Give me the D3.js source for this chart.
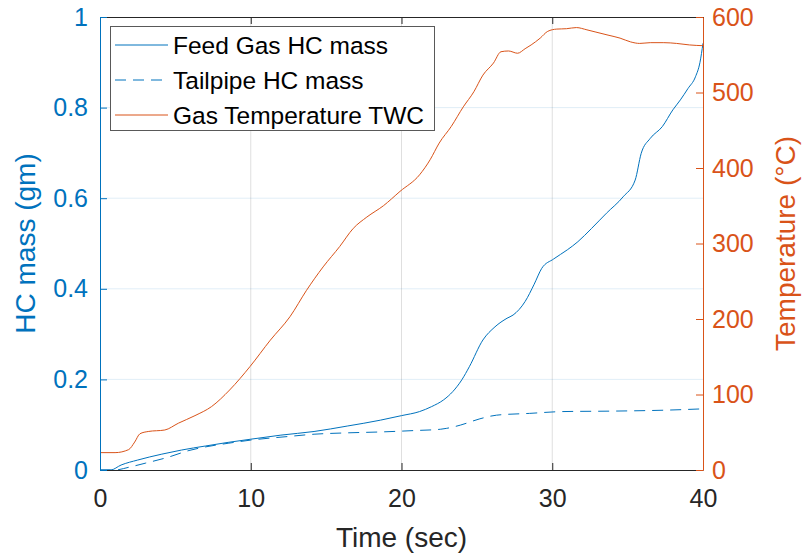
<!DOCTYPE html>
<html>
<head>
<meta charset="utf-8">
<script src="https://cdn.jsdelivr.net/npm/d3@7"></script>
<style>
  body { margin: 0; background: #fff; }
  svg { font-family: "Liberation Sans", Arial, sans-serif; }
</style>
</head>
<body>
<div id="container"></div>
<script>
/* CONSTANTS AND GLOBALS */
const width = 804,
  height = 556,
  margin = { top: 17, bottom: 86, left: 100, right: 101 }

const blue = '#0072BD',
  orange = '#D95319',
  dark = '#262626'

/* DATA */
// feed gas HC mass (gm)
const timeFeed = [0, 0.7, 1.4, 2.5, 4.1, 5.4, 7.0, 8.5, 10.0, 12.0, 14.2, 16.4, 18.6, 20.0, 21.2, 22.0, 22.8, 23.4, 24.0, 24.5, 25.4, 26.2, 27.0, 27.4, 28.2, 28.8, 29.3, 30.1, 31.0, 31.7, 32.6, 33.6, 34.7, 35.5, 35.9, 36.5, 37.3, 38.0, 38.5, 39.0, 39.5, 39.8, 40]
const feedHC = [0, 0, 0.011, 0.022, 0.035, 0.044, 0.053, 0.061, 0.068, 0.077, 0.085, 0.097, 0.110, 0.120, 0.129, 0.140, 0.155, 0.173, 0.199, 0.228, 0.287, 0.316, 0.335, 0.342, 0.372, 0.41, 0.445, 0.466, 0.486, 0.504, 0.533, 0.567, 0.603, 0.640, 0.699, 0.732, 0.758, 0.795, 0.817, 0.842, 0.868, 0.9, 0.942]

// tailpipe HC mass (gm)
const timeTail = [0, 1.0, 1.9, 3.0, 4.5, 5.9, 7.0, 8.5, 10.0, 12.5, 14.2, 16.4, 18.6, 20.8, 22.6, 23.0, 23.9, 25.2, 26.3, 28.5, 30.7, 34.0, 37.4, 40]
const tailHC = [0, 0, 0.006, 0.015, 0.028, 0.043, 0.051, 0.059, 0.066, 0.074, 0.079, 0.082, 0.084, 0.087, 0.090, 0.092, 0.099, 0.113, 0.121, 0.125, 0.129, 0.130, 0.132, 0.135]

// gas temperature TWC (°C)
const timeTemp = [0, 1.0, 1.9, 2.3, 2.65, 3.2, 4.3, 5.2, 6.3, 7.4, 8.6, 9.95, 11.3, 12.6, 13.7, 14.8, 15.9, 16.8, 17.7, 18.8, 19.9, 21.2, 21.9, 22.5, 23.3, 24.1, 24.8, 25.4, 26.1, 26.6, 27.1, 27.7, 28.2, 28.6, 29.2, 29.7, 30.3, 30.95, 31.6, 32.3, 32.9, 33.7, 34.5, 35.2, 35.8, 36.5, 37.4, 38.25, 39.1, 40]
const tempTWC = [23, 23, 27, 37, 48, 51, 53, 62, 72, 84, 106, 137, 172, 203, 238, 269, 296, 320, 335, 350, 369, 391, 411, 433, 455, 481, 501, 523, 539, 554, 555, 552, 558, 563, 572, 581, 584, 584.5, 586, 583, 580, 576, 572, 567, 565, 566, 566, 565, 563, 562]

/* TICKS AND LABELS */
const xTicks = [0, 10, 20, 30, 40]
const yTicks = [0, 0.2, 0.4, 0.6, 0.8, 1]
const tTicks = [0, 100, 200, 300, 400, 500, 600]

const legendItems = [
  { text: 'Feed Gas HC mass', color: blue, dash: null },
  { text: 'Tailpipe HC mass', color: blue, dash: '11,7' },
  { text: 'Gas Temperature TWC', color: orange, dash: null }
]

/* SCALES */
const xScale = d3.scaleLinear().domain([0, 40]).range([margin.left, width - margin.right])
const yScale = d3.scaleLinear().domain([0, 1]).range([height - margin.bottom, margin.top])
const tScale = d3.scaleLinear().domain([0, 600]).range([height - margin.bottom, margin.top])

const svg = d3.select('#container')
  .append('svg')
  .attr('width', width)
  .attr('height', height)

// + GRID
svg.append('g')
  .selectAll('line')
  .data(xTicks.slice(1, -1))
  .join('line')
  .attr('x1', d => xScale(d)).attr('x2', d => xScale(d))
  .attr('y1', margin.top).attr('y2', height - margin.bottom)
  .attr('stroke', dark).attr('stroke-opacity', 0.15)

svg.append('g')
  .selectAll('line')
  .data(yTicks.slice(1, -1))
  .join('line')
  .attr('x1', margin.left).attr('x2', width - margin.right)
  .attr('y1', d => yScale(d)).attr('y2', d => yScale(d))
  .attr('stroke', blue).attr('stroke-opacity', 0.12)

// + LINES
const zip = (xs, ys) => xs.map((x, i) => ({ x, y: ys[i] }))

const hcLine = d3.line()
  .x(d => xScale(d.x))
  .y(d => yScale(d.y))
  .curve(d3.curveMonotoneX)

const tempLine = d3.line()
  .x(d => xScale(d.x))
  .y(d => tScale(d.y))
  .curve(d3.curveMonotoneX)

svg.append('path')
  .attr('d', hcLine(zip(timeFeed, feedHC)))
  .attr('fill', 'none').attr('stroke', blue).attr('stroke-width', 1)

svg.append('path')
  .attr('d', hcLine(zip(timeTail, tailHC)))
  .attr('fill', 'none').attr('stroke', blue).attr('stroke-width', 1)
  .attr('stroke-dasharray', '11,7')

svg.append('path')
  .attr('d', tempLine(zip(timeTemp, tempTWC)))
  .attr('fill', 'none').attr('stroke', orange).attr('stroke-width', 1)

// + AXES
const xAxis = svg.append('g')
  .attr('transform', `translate(0, ${height - margin.bottom})`)
  .call(d3.axisBottom(xScale).tickValues(xTicks).tickSizeInner(-7).tickSizeOuter(0).tickPadding(19))
xAxis.selectAll('text').attr('font-size', 25).attr('fill', dark)
xAxis.selectAll('line, path').attr('stroke', dark)

const topAxis = svg.append('g')
  .attr('transform', `translate(0, ${margin.top})`)
  .call(d3.axisTop(xScale).tickValues(xTicks).tickSizeInner(-7).tickSizeOuter(0).tickFormat(''))
topAxis.selectAll('line, path').attr('stroke', dark)

const yAxis = svg.append('g')
  .attr('transform', `translate(${margin.left}, 0)`)
  .call(d3.axisLeft(yScale).tickValues(yTicks).tickSizeInner(-7).tickSizeOuter(0).tickPadding(12)
    .tickFormat(d => d === 0 || d === 1 ? d : d3.format('.1f')(d)))
yAxis.selectAll('text').attr('font-size', 25).attr('fill', blue)
yAxis.selectAll('line, path').attr('stroke', blue)

const tAxis = svg.append('g')
  .attr('transform', `translate(${width - margin.right}, 0)`)
  .call(d3.axisRight(tScale).tickValues(tTicks).tickSizeInner(-7).tickSizeOuter(0).tickPadding(9))
tAxis.selectAll('text').attr('font-size', 25).attr('fill', orange)
tAxis.selectAll('line, path').attr('stroke', orange)

// + AXIS LABELS
svg.append('text')
  .attr('x', (margin.left + width - margin.right) / 2)
  .attr('y', 547)
  .attr('text-anchor', 'middle')
  .attr('font-size', 28)
  .attr('fill', dark)
  .text('Time (sec)')

svg.append('text')
  .attr('transform', `translate(35, ${(margin.top + height - margin.bottom) / 2}) rotate(-90)`)
  .attr('text-anchor', 'middle')
  .attr('font-size', 28)
  .attr('fill', blue)
  .text('HC mass (gm)')

svg.append('text')
  .attr('transform', `translate(795, ${(margin.top + height - margin.bottom) / 2}) rotate(-90)`)
  .attr('text-anchor', 'middle')
  .attr('font-size', 28)
  .attr('fill', orange)
  .text('Temperature (°C)')

// + LEGEND
const legend = svg.append('g')

legend.append('rect')
  .attr('x', 110.5).attr('y', 26.5)
  .attr('width', 324).attr('height', 104)
  .attr('fill', '#fff')
  .attr('stroke', '#595959')

const rows = legend.selectAll('g.row')
  .data(legendItems)
  .join('g')
  .attr('class', 'row')
  .attr('transform', (d, i) => `translate(0, ${45 + i * 35})`)

rows.append('line')
  .attr('x1', 115).attr('x2', 168)
  .attr('stroke', d => d.color)
  .attr('stroke-dasharray', d => d.dash)

rows.append('text')
  .attr('x', 173)
  .attr('dy', '0.36em')
  .attr('font-size', 24.5)
  .attr('fill', '#000')
  .text(d => d.text)
</script>
</body>
</html>
